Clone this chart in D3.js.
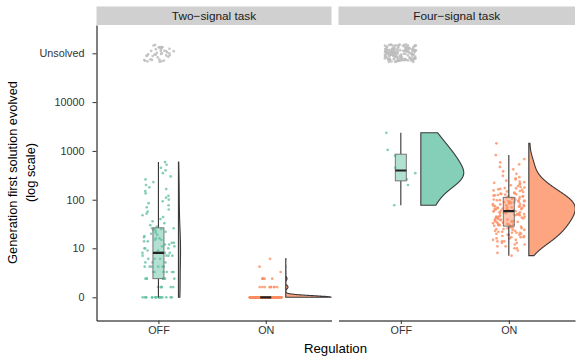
<!DOCTYPE html>
<html>
<head>
<meta charset="utf-8">
<script src="https://cdn.jsdelivr.net/npm/d3@7"></script>
<style>
body { margin: 0; background: #fff; }
text { font-family: "Liberation Sans", Arial, sans-serif; }
</style>
</head>
<body>
<script>
var facets = ["Two\u2212signal task", "Four\u2212signal task"];
var regulation = ["OFF", "ON"];
var yTickValues = [0, 10, 100, 1000, 10000, 100000];
var yTickLabels = ["0", "10", "100", "1000", "10000", "Unsolved"];

// generation at which the first solution evolved (solved runs only)
var twoOff = [0, 0, 0, 0, 0, 0, 0, 0, 0, 0, 0, 0, 0, 0, 0, 0, 0, 0,
  1, 1, 1, 1, 1, 1, 2, 2, 2, 2, 2, 2, 2, 2, 3, 3, 3, 3, 3, 3,
  4, 4, 4, 4, 4, 4, 5, 5, 5, 6, 6, 6, 7, 7, 7, 7, 8, 8, 8, 8, 8, 8, 8,
  9, 9, 10, 10, 10, 11, 11, 12, 12, 13, 13, 14, 14, 15, 15, 16, 16, 17, 18, 19, 20, 21, 22, 23, 24, 25, 25, 26, 26,
  28, 30, 33, 36, 40, 44, 48, 52, 57, 63, 70, 77, 85, 93, 100, 110, 120, 135, 150, 165, 180, 200, 230, 260, 300, 350, 400, 450, 520, 590];
var twoOnLevels = [0, 1, 2, 3, 4, 6];
var twoOnCounts = [183, 9, 5, 1, 1, 1];
var fourOff = [77, 200, 260, 350, 450, 800, 1050, 2350];
var fourOn = [7, 8, 9, 10,
  10, 11, 11, 12, 12, 13, 13,
  14, 14, 14, 15, 15, 16, 16, 17, 17, 17,
  18, 18, 19, 19, 19, 20, 20, 21, 21, 21, 22, 22, 23, 23,
  24, 24, 25, 25, 26, 26, 27, 27, 28, 28, 29, 29, 30, 30, 31, 31,
  32, 32, 33, 34, 34, 35, 35, 36, 36, 37, 38, 38, 39, 39, 40, 41, 41, 42,
  43, 43, 44, 45, 45, 46, 47, 48, 48, 49, 50, 50, 51, 52, 53, 53, 54, 55, 56,
  57, 58, 59, 60, 60, 61, 62, 63, 64, 65, 66, 66, 67, 68, 69, 70, 71, 72, 73, 74, 74,
  76, 77, 78, 80, 81, 82, 84, 85, 86, 88, 89, 90, 91, 93, 94, 95, 96, 97, 98, 99,
  101, 103, 105, 107, 109, 111, 113, 115, 117, 119, 121, 123, 125, 127, 129, 131, 133,
  136, 140, 144, 148, 151, 155, 159, 163, 166, 170, 173, 177,
  182, 190, 198, 206, 214, 222, 229, 236,
  245, 260, 275, 290, 308,
  340, 380, 420, 470, 530,
  580, 680, 820,
  1430];
// runs that never solved the task (OFF, ON)
var unsolvedTwo = [40, 0];
var unsolvedFour = [160, 0];
var unsolvedValue = 100000;

var w = 581;
var h = 363;
var panelTop = 25;
var panelBottom = 320.5;
var colors = {OFF: "#66c2a5", ON: "#fc8d62"};

function expand(levels, counts) {
  var out = [];
  levels.forEach(function(v, i) {
    for (var k = 0; k < counts[i]; k++) out.push(v);
  });
  return out;
}

// pseudo-log transform (sigma = 1, base 10)
function pseudoLog(v) { return Math.asinh(v / 2) / Math.LN10; }

// seeded generator, only used for jitter
function mulberry32(a) {
  return function() {
    a |= 0; a = a + 0x6D2B79F5 | 0;
    var t = Math.imul(a ^ a >>> 15, 1 | a);
    t = t + Math.imul(t ^ t >>> 7, 61 | t) ^ t;
    return ((t ^ t >>> 14) >>> 0) / 4294967296;
  };
}
var rand = mulberry32(11);

function density(t) {
  var s = t.slice().sort(d3.ascending);
  var n = s.length;
  var sd = d3.deviation(s);
  var iqr = d3.quantileSorted(s, 0.75) - d3.quantileSorted(s, 0.25);
  var lo = Math.min(sd, iqr / 1.34);
  if (!lo) lo = sd || Math.abs(s[0]) || 1;
  var bw = 0.9 * lo * Math.pow(n, -0.2);
  var a = s[0], b = s[n - 1];
  var pts = [];
  for (var i = 0; i < 512; i++) {
    var tt = a + (b - a) * i / 511;
    var sum = 0;
    for (var j = 0; j < n; j++) {
      var u = (tt - s[j]) / bw;
      sum += Math.exp(-0.5 * u * u);
    }
    pts.push({t: tt, d: sum / (n * bw * Math.sqrt(2 * Math.PI))});
  }
  return pts;
}

var panels = [
  {name: facets[0], x0: 96.5, x1: 331.5, series: [twoOff, expand(twoOnLevels, twoOnCounts)], unsolved: unsolvedTwo},
  {name: facets[1], x0: 338.5, x1: 575, series: [fourOff, fourOn], unsolved: unsolvedFour}
];

var y = d3.scaleLinear().domain([-0.475, 5.58]).range([panelBottom, panelTop]);

var svg = d3.select("body").append("svg")
    .attr("width", w)
    .attr("height", h);

var defs = svg.append("defs");

panels.forEach(function(p, pi) {
  var x = d3.scalePoint().domain(regulation).range([p.x0, p.x1]).padding(0.595).align(0.485);
  var step = x.step();

  defs.append("clipPath").attr("id", "clip" + pi)
    .append("rect").attr("x", p.x0).attr("y", panelTop).attr("width", p.x1 - p.x0).attr("height", panelBottom - panelTop);

  // strip
  svg.append("rect")
    .attr("x", p.x0).attr("y", 6.5)
    .attr("width", p.x1 - p.x0).attr("height", panelTop - 6.5)
    .attr("fill", "#d0d0d0");
  svg.append("text")
    .attr("x", (p.x0 + p.x1) / 2).attr("y", 20)
    .attr("text-anchor", "middle")
    .attr("font-size", "11.8px")
    .attr("fill", "#1a1a1a")
    .text(p.name);

  var g = svg.append("g").attr("clip-path", "url(#clip" + pi + ")");

  // unsolved runs at the top
  regulation.forEach(function(cat, ci) {
    var pts = d3.range(p.unsolved[ci]);
    g.selectAll(null)
      .data(pts)
      .enter()
      .append("circle")
      .attr("cx", function() { return x(cat) + (rand() * 2 - 1) * 16; })
      .attr("cy", function() { return y(pseudoLog(unsolvedValue) + (rand() * 2 - 1) * 0.18); })
      .attr("r", 1.35)
      .attr("fill", "#bdbdbd")
      .attr("opacity", 0.85);
  });

  // densities, scaled by the largest one in the panel
  var dens = p.series.map(function(vals) { return density(vals.map(pseudoLog)); });
  var maxD = d3.max(dens, function(d) { return d3.max(d, function(e) { return e.d; }); });
  var halfW = 0.43 * step;

  dens.forEach(function(dd, ci) {
    var cat = regulation[ci];
    var left = x(cat) + 20;
    var area = d3.area()
      .y(function(d) { return y(d.t); })
      .x0(left)
      .x1(function(d) { return left + halfW * d.d / maxD; });
    g.append("path")
      .attr("d", area(dd) + "Z")
      .attr("fill", colors[cat])
      .attr("fill-opacity", 0.8)
      .attr("stroke", "#3a3a3a")
      .attr("stroke-width", 1.1);
  });

  // jittered runs
  p.series.forEach(function(vals, ci) {
    var cat = regulation[ci];
    g.selectAll(null)
      .data(vals)
      .enter()
      .append("circle")
      .attr("cx", function() { return x(cat) + (rand() * 2 - 1) * 16; })
      .attr("cy", function(d) { return y(pseudoLog(d)); })
      .attr("r", 1.35)
      .attr("fill", colors[cat])
      .attr("opacity", 0.8);
  });

  // boxplots
  p.series.forEach(function(vals, ci) {
    var cat = regulation[ci];
    var s = vals.map(pseudoLog).sort(d3.ascending);
    var q1 = d3.quantileSorted(s, 0.25);
    var med = d3.quantileSorted(s, 0.5);
    var q3 = d3.quantileSorted(s, 0.75);
    var iqr = q3 - q1;
    var wLo = d3.min(s.filter(function(v) { return v >= q1 - 1.5 * iqr; }));
    var wHi = d3.max(s.filter(function(v) { return v <= q3 + 1.5 * iqr; }));
    var cx = x(cat);
    var bw = 5.5;
    g.append("line")
      .attr("x1", cx).attr("x2", cx)
      .attr("y1", y(wHi)).attr("y2", y(q3))
      .attr("stroke", "#333").attr("stroke-width", 1.1);
    g.append("line")
      .attr("x1", cx).attr("x2", cx)
      .attr("y1", y(q1)).attr("y2", y(wLo))
      .attr("stroke", "#333").attr("stroke-width", 1.1);
    g.append("rect")
      .attr("x", cx - bw).attr("width", bw * 2)
      .attr("y", y(q3)).attr("height", Math.max(0, y(q1) - y(q3)))
      .attr("fill", colors[cat]).attr("fill-opacity", 0.5)
      .attr("stroke", "#777").attr("stroke-width", 1);
    g.append("line")
      .attr("x1", cx - bw).attr("x2", cx + bw)
      .attr("y1", y(med)).attr("y2", y(med))
      .attr("stroke", "#222").attr("stroke-width", 2.2);
  });

  // x axis
  var xa = svg.append("g")
    .attr("transform", "translate(0," + panelBottom + ")")
    .call(d3.axisBottom(x).tickSize(3.5).tickSizeOuter(0).tickPadding(2.5));
  xa.select(".domain").attr("stroke", "#000").attr("stroke-width", 1);
  xa.selectAll(".tick line").attr("stroke", "#333");
  xa.selectAll("text").attr("font-size", "10.8px").attr("fill", "#333").attr("font-family", "Liberation Sans, Arial, sans-serif");

  if (pi === 0) {
    var ya = svg.append("g")
      .attr("transform", "translate(" + p.x0 + ",0)")
      .call(d3.axisLeft(y)
        .tickValues(yTickValues.map(pseudoLog))
        .tickFormat(function(d, i) { return yTickLabels[i]; })
        .tickSize(4).tickSizeOuter(0).tickPadding(8));
    ya.select(".domain").attr("stroke", "#000").attr("stroke-width", 1);
    ya.selectAll(".tick line").attr("stroke", "#333");
    ya.selectAll("text").attr("font-size", "10.8px").attr("fill", "#333").attr("font-family", "Liberation Sans, Arial, sans-serif");
  }
});

svg.append("text")
  .attr("x", 335.5).attr("y", 353)
  .attr("text-anchor", "middle")
  .attr("font-size", "13.2px")
  .text("Regulation");

var yt = svg.append("text")
  .attr("transform", "translate(0,172.5) rotate(-90)")
  .attr("text-anchor", "middle")
  .attr("font-size", "12.8px");
yt.append("tspan").attr("x", 0).attr("y", 17).text("Generation first solution evolved");
yt.append("tspan").attr("x", 0).attr("y", 35).text("(log scale)");
</script>
</body>
</html>
